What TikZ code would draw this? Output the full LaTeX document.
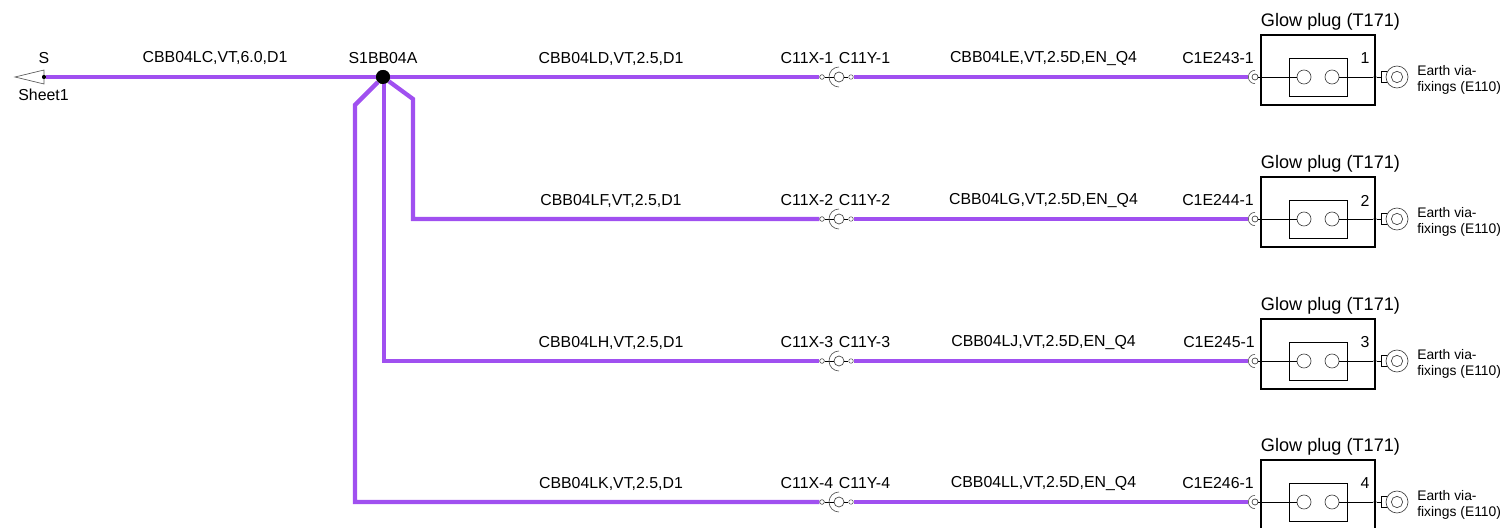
\documentclass[tikz,border=0pt]{standalone}
\usepackage{fontspec}
\setmainfont{Liberation Sans}
\usetikzlibrary{positioning}
\definecolor{wirecol}{RGB}{160,80,240}
\tikzset{
lab/.style={inner sep=0pt,font=\fontsize{11.9}{14}\selectfont},
wire/.style={draw=wirecol,line width=3.2pt},
thin line/.style={draw=black,line width=0.6pt},
grey line/.style={draw=black!65,line width=0.5pt},
pin/.style={circle,draw=black!65,fill=white,line width=0.4pt,minimum size=3.4pt,inner sep=0pt},
hole/.style={circle,draw=black!75,line width=0.5pt,inner sep=0pt},
plugbox/.style={rectangle,draw=black,line width=1.5pt,minimum width=85.5pt,minimum height=52.5pt,inner sep=0pt},
plugcore/.style={rectangle,draw=black,line width=0.6pt,minimum width=43.5pt,minimum height=28.5pt,inner sep=0pt}
}
\begin{document}
\begin{tikzpicture}[x=0.75pt,y=-0.75pt]
\clip (0,0) rectangle (1500,528);
\useasboundingbox (0,0) rectangle (1500,528);
\coordinate (tip) at (15,77);
\coordinate (topb) at (44,70);
\coordinate (botb) at (44,84);
\node[circle,fill=black,minimum size=3pt,inner sep=0pt] (S) at (44,77) {};
\node[lab] (Slab) at (44,58.5) {S};
\node[lab] (Sheet) at (43.5,94.5) {Sheet1};
\node[lab] (mainlab) at (215,58) {CBB04LC,VT,6.0,D1};
\node[lab] (Jlab) at (383,58) {S1BB04A};
\draw[grey line] (tip) -- (topb) -- (botb) -- cycle;
\node[circle,fill=black,minimum size=10.5pt,inner sep=0pt] (J) at (383,77) {};
\foreach \n/\y/\la/\lb/\lc/\pos in {
1/77/CBB04LD/CBB04LE/C1E243-1/1218,
2/219/CBB04LF/CBB04LG/C1E244-1/1218,
3/361/CBB04LH/CBB04LJ/C1E245-1/1219,
4/502/CBB04LK/CBB04LL/C1E246-1/1218}{
\node[pin] (pa\n) at (822,\y) {};
\node[hole,minimum size=7.5pt] (sock\n) at (839,\y) {};
\node[pin] (pb\n) at (851,\y) {};
\coordinate (out\n) at (1248,\y);
\node[hole,minimum size=4.5pt] (end\n) at (1255,\y) {};
\node[plugbox] (plug\n) at (1318,\y-7) {};
\node[plugcore] (core\n) at (1318,\y) {};
\node[hole,minimum size=10.5pt] (ca\n) at (1304,\y) {};
\node[hole,minimum size=10.5pt] (cb\n) at (1332,\y) {};
\node[circle,fill=black,minimum size=2.5pt,inner sep=0pt] (dot\n) at (1375,\y) {};
\node[rectangle,draw=black,line width=0.6pt,minimum width=4.5pt,minimum height=8pt,inner sep=0pt] (lug\n) at (1384,\y) {};
\node[hole,fill=white,minimum size=16.5pt] (ring\n) at (1397,\y) {};
\node[hole,minimum size=8.5pt] (eye\n) at (1397,\y) {};
\node[lab] at (611,\y-18.5) {\la,VT,2.5,D1};
\node[lab] at (807,\y-18.5) {C11X-\n};
\node[lab] at (864.5,\y-18.5) {C11Y-\n};
\node[lab] at (1043.5,\y-18.5) {\lb,VT,2.5D,EN\_Q4};
\node[lab] at (\pos,\y-18.5) {\lc};
\node[lab] at (1365,\y-18.5) {\n};
\node[inner sep=0pt,font=\fontsize{13.6}{16}\selectfont] at (1330.5,\y-55) {Glow plug (T171)};
\node[inner sep=0pt,align=left,anchor=west,font=\fontsize{10.4}{11.8}\selectfont] at (1417,\y+3) {Earth via-\\fixings (E110)};
\path[wire] (pb\n) -- (out\n);
\draw[thin line] (pa\n) -- (sock\n) (sock\n) -- (pb\n);
\draw[grey line] ([yshift=7.5pt]sock\n.center) arc[start angle=90,end angle=270,radius=7.5pt];
\draw[grey line] ([yshift=5pt]end\n.center) arc[start angle=90,end angle=270,radius=5pt];
\draw[thin line] (end\n) -- (ca\n) (cb\n) -- (dot\n) -- (lug\n);
}
\coordinate (Ra) at (413,99);
\coordinate (Rb) at (413,219);
\coordinate (Mt) at (384,80);
\coordinate (Ma) at (384,361);
\coordinate (La) at (355,105);
\coordinate (Lb) at (355,502);
\path[wire] (S) -- (J) -- (pa1);
\path[wire] (J) -- (Ra) -- (Rb) -- (pa2);
\path[wire] (Mt) -- (Ma) -- (pa3);
\path[wire] (J) -- (La) -- (Lb) -- (pa4);
\node[circle,fill=black,minimum size=10.5pt,inner sep=0pt] at (J) {};
\foreach \n in {1,2,3,4} {\node[pin] at (pa\n) {};}
\node[circle,fill=black,minimum size=3pt,inner sep=0pt] at (S) {};
\end{tikzpicture}
\end{document}
